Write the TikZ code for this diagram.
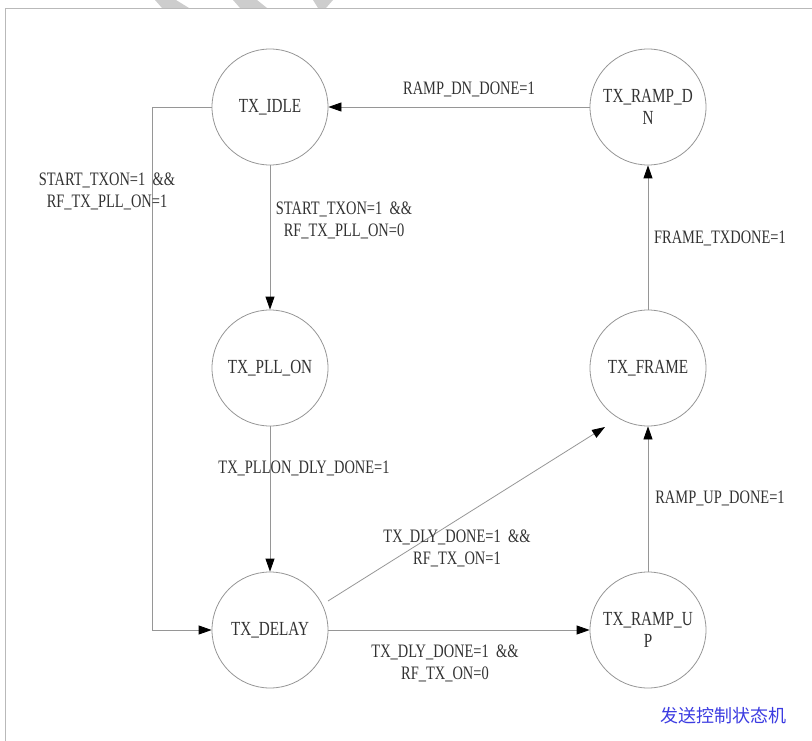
\documentclass[tikz,border=0pt]{standalone}
\usepackage{fontspec}
\setmainfont{Liberation Serif}[FakeStretch=0.76]
\newfontfamily\cjk{Noto Sans CJK SC}
\usetikzlibrary{arrows.meta}
\definecolor{linegray}{RGB}{150,150,150}
\definecolor{framegray}{RGB}{185,185,185}
\definecolor{txtgray}{RGB}{50,50,50}
\definecolor{capblue}{RGB}{60,60,225}
\definecolor{wmgray}{RGB}{205,205,205}
\tikzset{
  state/.style={circle, draw=linegray, line width=0.8pt, minimum size=116pt, inner sep=0pt, align=center, text=txtgray, font=\fontsize{20}{22}\selectfont},
  lbl/.style={align=center, text=txtgray, inner sep=0pt, font=\fontsize{19}{22}\selectfont},
  arr/.style={draw=linegray, line width=0.8pt, -{Triangle[length=13pt,width=9pt,fill=black,color=black]}},
}
\begin{document}
\begin{tikzpicture}[x=1pt,y=-1pt]
\useasboundingbox (0,0) rectangle (812,741);
% watermark stripes
\fill[wmgray] (155,0) -- (176,0) -- (189,8) -- (162,8) -- cycle;
\fill[wmgray] (233,0) -- (257,0) -- (267,8) -- (240,8) -- cycle;
\fill[wmgray] (313,0) -- (333,0) -- (326,8) -- (318,8) -- cycle;
% frame
\draw[framegray, line width=0.9pt] (812,8) -- (5,8) -- (5,741);
% states
\node[state] (idle)  at (270,107) {TX\_IDLE};
\node[state] (rdn)   at (648,107) {TX\_RAMP\_D\\N};
\node[state] (pll)   at (270,368) {TX\_PLL\_ON};
\node[state] (frame) at (648,368) {TX\_FRAME};
\node[state] (delay) at (270,630) {TX\_DELAY};
\node[state] (rup)   at (648,630) {TX\_RAMP\_U\\P};
\coordinate (c1) at (152,107);
\coordinate (dstart) at (328,601);
\coordinate (ftip) at (605,427);
% connectors
\draw[arr] (rdn) -- (idle);
\draw[arr] (idle) -- (pll);
\draw[arr] (idle.west) -- (c1) |- (delay.west);
\draw[arr] (pll) -- (delay);
\draw[arr] (dstart) -- (ftip);
\draw[arr] (delay) -- (rup);
\draw[arr] (rup) -- (frame);
\draw[arr] (frame) -- (rdn);
% labels
\node[lbl] (l1) at (469,89) {RAMP\_DN\_DONE=1};
\node[lbl] (l2) at (344,220) {START\_TXON=1 \ \&\&\\RF\_TX\_PLL\_ON=0};
\node[lbl] (l3) at (107,191) {START\_TXON=1 \ \&\&\\RF\_TX\_PLL\_ON=1};
\node[lbl] (l4) at (304,468) {TX\_PLLON\_DLY\_DONE=1};
\node[lbl] (l5) at (457,548) {TX\_DLY\_DONE=1 \ \&\&\\RF\_TX\_ON=1};
\node[lbl] (l6) at (445,663) {TX\_DLY\_DONE=1 \ \&\&\\RF\_TX\_ON=0};
\node[lbl] (l7) at (720,498) {RAMP\_UP\_DONE=1};
\node[lbl] (l8) at (720,238) {FRAME\_TXDONE=1};
\node[text=capblue, inner sep=0pt, font=\cjk\fontsize{18}{20}\selectfont] (cap) at (723,716) {发送控制状态机};
\end{tikzpicture}
\end{document}
